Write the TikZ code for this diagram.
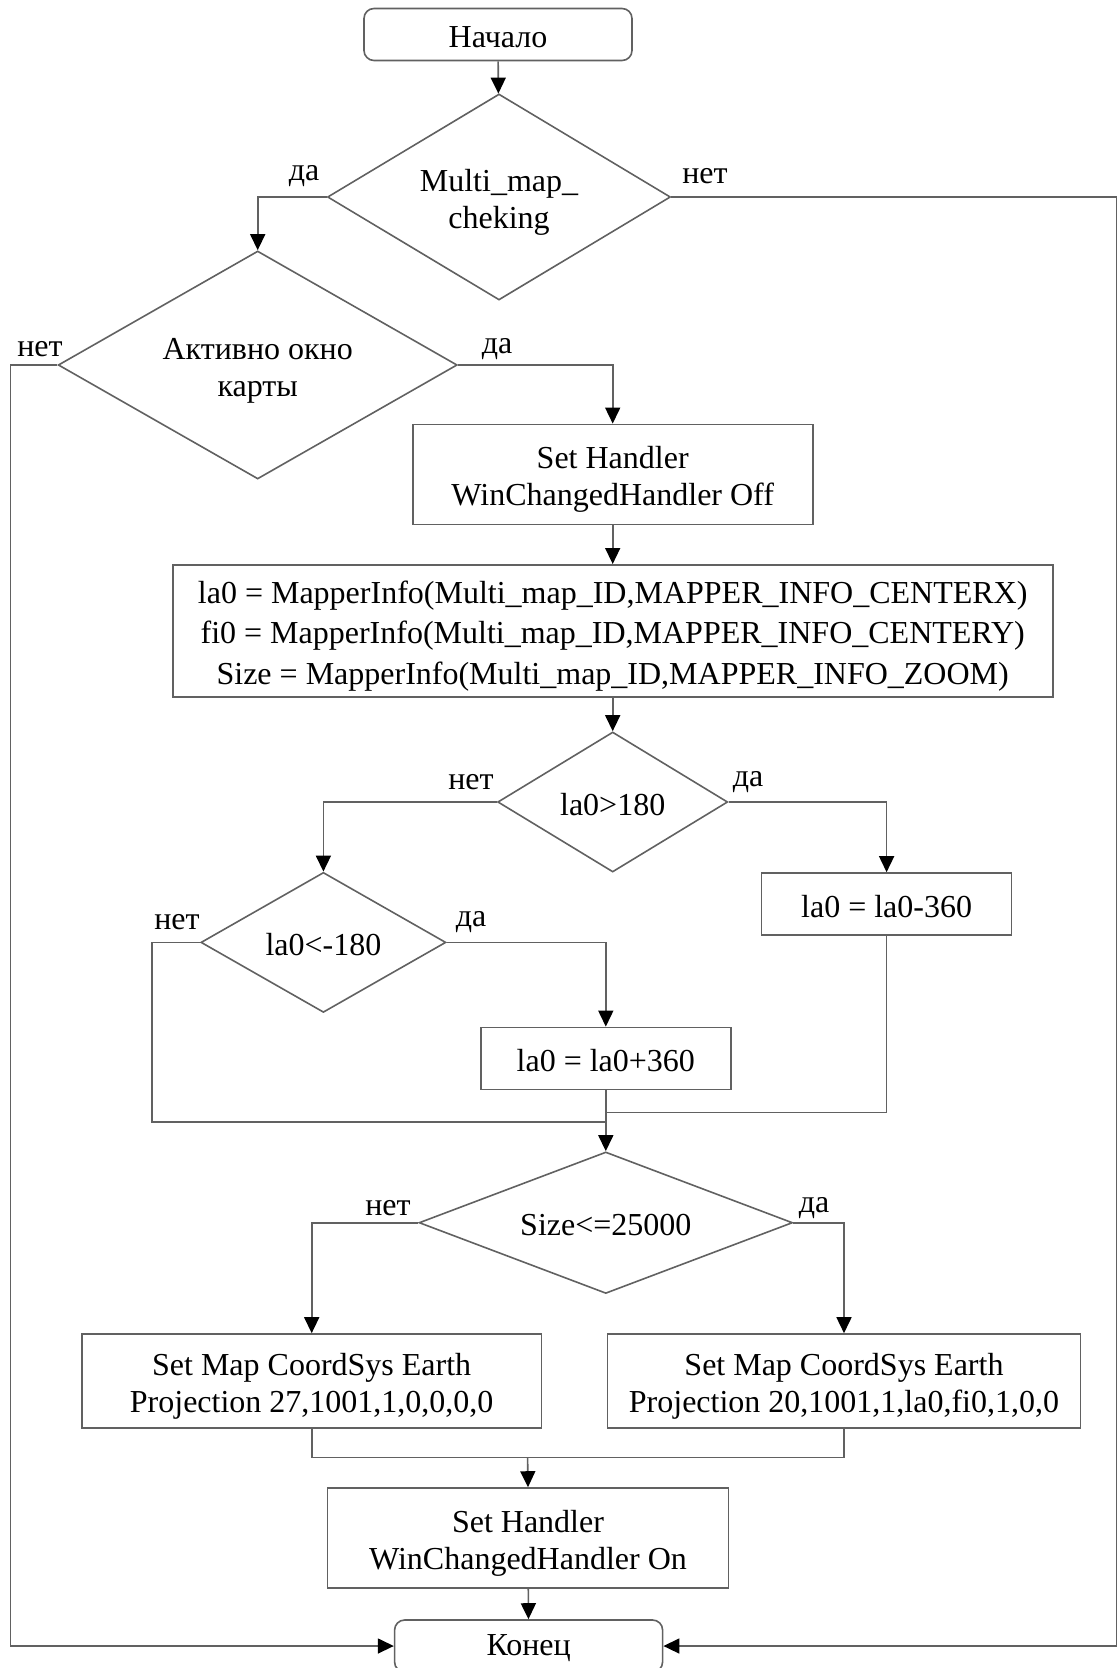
\documentclass[tikz,border=0pt]{standalone}
\usepackage{fontspec}
\setmainfont{Liberation Serif}
\usetikzlibrary{shapes.geometric,arrows.meta}
\begin{document}
\begin{tikzpicture}[x=0.5pt,y=-0.5pt,
  every node/.style={font=\fontsize{16pt}{18.5pt}\selectfont, align=center, inner sep=0pt},
  shp/.style={draw=black!62, line width=0.8pt},
  ln/.style={draw=black!62, line width=0.8pt},
  arr/.style={ln, -{Triangle[length=8pt,width=7.5pt,fill=black,color=black]}},
  term/.style={shp, rounded corners=5pt, minimum width=134pt, minimum height=26pt},
  proc/.style={shp},
  dec/.style={shp, diamond},
  txt1/.style={yshift=-1.2pt},
  txt2/.style={yshift=-2.7pt},
  txt3/.style={yshift=-2.5pt, font=\fontsize{16pt}{20.2pt}\selectfont},
  lbl/.style={}
]
\useasboundingbox (0,0) rectangle (1118,1668);
% shapes
\node[term] (start) at (498,34.5) {};
\node[dec, minimum width=171.5pt, minimum height=103pt] (d1) at (499,197) {};
\node[dec, minimum width=199.5pt, minimum height=114pt] (d2) at (257.7,365) {};
\node[proc, minimum width=200pt, minimum height=50pt] (sh1) at (612.7,474.4) {};
\node[proc, minimum width=440pt, minimum height=66pt] (big) at (612.7,630.8) {};
\node[dec, minimum width=115pt, minimum height=70pt] (d3) at (612.7,802) {};
\node[proc, minimum width=125pt, minimum height=31pt] (m1) at (886.6,904) {};
\node[dec, minimum width=122.5pt, minimum height=70pt] (d4) at (323.4,942.4) {};
\node[proc, minimum width=125pt, minimum height=31pt] (p1) at (605.8,1058.4) {};
\node[dec, minimum width=186.75pt, minimum height=70.75pt] (d5) at (605.8,1222.7) {};
\node[proc, minimum width=229.7pt, minimum height=47pt] (bl) at (311.7,1381) {};
\node[proc, minimum width=236.6pt, minimum height=47pt] (br) at (844,1381) {};
\node[proc, minimum width=200.5pt, minimum height=50pt] (sh2) at (528,1538) {};
\node[term] (end) at (528.6,1646) {};
% texts
\node[txt1] (tstart) at (start.center) {Начало};
\node[txt2] (td1) at (d1.center) {Multi\_map\_\\cheking};
\node[txt2] (td2) at (d2.center) {Активно окно\\карты};
\node[txt2] (tsh1) at (sh1.center) {Set Handler\\WinChangedHandler Off};
\node[txt3] (tbig) at (big.center) {la0 = MapperInfo(Multi\_map\_ID,MAPPER\_INFO\_CENTERX)\\fi0 = MapperInfo(Multi\_map\_ID,MAPPER\_INFO\_CENTERY)\\Size = MapperInfo(Multi\_map\_ID,MAPPER\_INFO\_ZOOM)};
\node[txt1] (td3) at (d3.center) {la0>180};
\node[txt1] (tm1) at (m1.center) {la0 = la0-360};
\node[txt1] (td4) at (d4.center) {la0<-180};
\node[txt1] (tp1) at (p1.center) {la0 = la0+360};
\node[txt1] (td5) at (d5.center) {Size<=25000};
\node[txt2] (tbl) at (bl.center) {Set Map CoordSys Earth\\Projection 27,1001,1,0,0,0,0};
\node[txt2] (tbr) at (br.center) {Set Map CoordSys Earth\\Projection 20,1001,1,la0,fi0,1,0,0};
\node[txt2] (tsh2) at (sh2.center) {Set Handler\\WinChangedHandler On};
\node[txt1] (tend) at (end.center) {Конец};
% labels
\node[lbl] (l1) at (304,176) {да};
\node[lbl] (l2) at (705,176) {нет};
\node[lbl] (l3) at (40,349.5) {нет};
\node[lbl] (l4) at (497,349.5) {да};
\node[lbl] (l5) at (471,782.5) {нет};
\node[lbl] (l6) at (748,782.5) {да};
\node[lbl] (l7) at (177,922) {нет};
\node[lbl] (l8) at (471,922) {да};
\node[lbl] (l9) at (388,1208) {нет};
\node[lbl] (l10) at (814,1208) {да};
% coordinates
\coordinate (rr) at (1116.5,197);
\coordinate (ll) at (10.6,365);
\coordinate (c4) at (152,1122.2);
\coordinate (j2) at (605.8,1122.2);
\coordinate (j1) at (605.8,1112.6);
\coordinate (jb) at (527.6,1457.3);
% connectors
\draw[arr] (start) -- (d1);
\draw[arr] (d1.west) -| (d2.north);
\draw[arr] (d1.east) -- (rr) |- (end.east);
\draw[arr] (d2.west) -- (ll) |- (end.west);
\draw[arr] (d2.east) -| (sh1.north);
\draw[arr] (sh1) -- (big);
\draw[arr] (big) -- (d3);
\draw[arr] (d3.west) -| (d4.north);
\draw[arr] (d3.east) -| (m1.north);
\draw[arr] (d4.east) -| (p1.north);
\draw[ln] (d4.west) -| (c4) -- (j2);
\draw[ln] (m1.south) |- (j1);
\draw[arr] (p1.south) -- (d5.north);
\draw[arr] (d5.west) -| (bl.north);
\draw[arr] (d5.east) -| (br.north);
\draw[ln] (bl.south) -- (bl.south |- jb) -- (br.south |- jb) -- (br.south);
\draw[arr] (jb) -- (sh2.north);
\draw[arr] (sh2) -- (end);
\end{tikzpicture}
\end{document}
